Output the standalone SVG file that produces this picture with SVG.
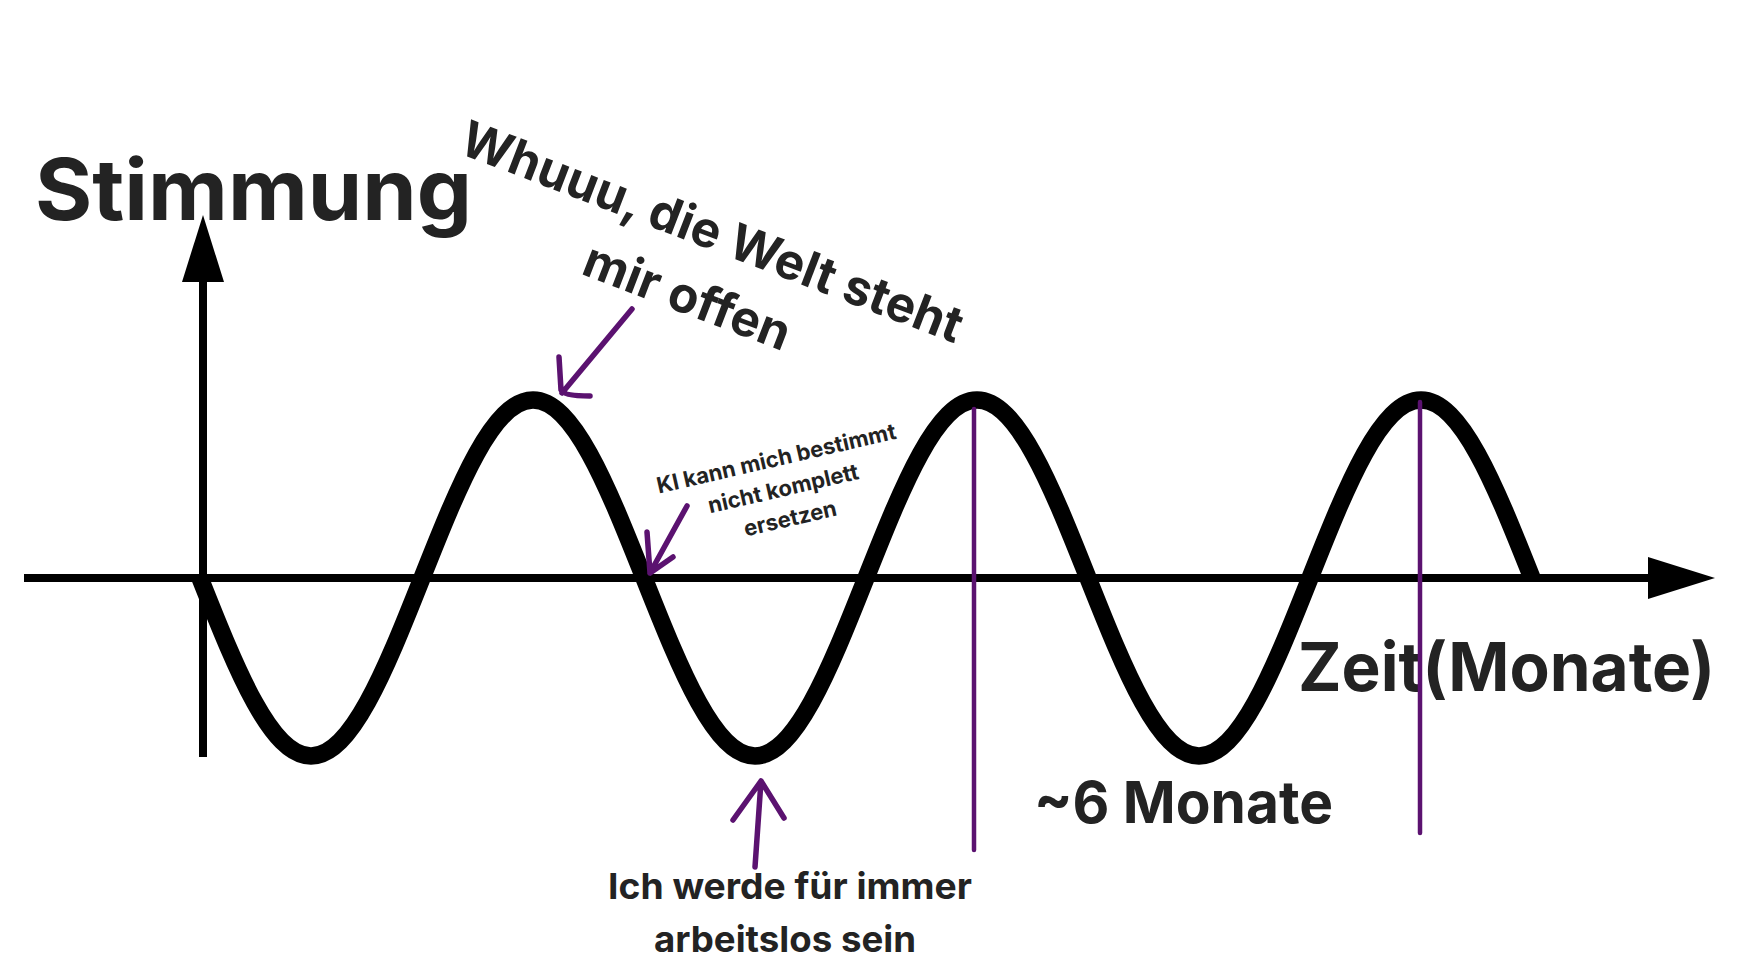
<svg xmlns="http://www.w3.org/2000/svg" width="1742" height="980" viewBox="0 0 1742 980">
<style>
.t{font-family:Inter,"Open Sans","Liberation Sans",sans-serif;font-weight:700;fill:#232323}
.ax{stroke:#000;stroke-width:8;fill:none}
.wave{stroke:#000;stroke-width:17.5;fill:none;stroke-linejoin:round}
.pl{stroke:#5b1270;stroke-width:5.5;fill:none;stroke-linecap:round;stroke-linejoin:round}
.vl{stroke:#5b1270;stroke-width:4.5;fill:none;stroke-linecap:round}
</style>
<rect width="1742" height="980" fill="#fff"/>
<g id="axes">
  <line class="ax" x1="24" y1="578" x2="1652" y2="578"/>
  <polygon points="1648,557 1715,578 1648,599" fill="#000"/>
  <line class="ax" x1="203" y1="278" x2="203" y2="757"/>
  <polygon points="182,282 203,215 224,282" fill="#000"/>
</g>
<g id="wave">
  <path class="wave" d="M200,578 c37.1,93.5 71,178 111,178 s73.9,-84.5 111,-178 s71,-178 111,-178 s73.9,84.5 111,178 s71,178 111,178 s73.9,-84.5 111,-178 s71,-178 111,-178 s73.9,84.5 111,178 s71,178 111,178 s73.9,-84.5 111,-178 s71,-178 111,-178 s73.9,84.5 111,178"/>
</g>
<g id="label-stimmung"><text class="t" x="35" y="220" font-size="85" textLength="437" lengthAdjust="spacingAndGlyphs">Stimmung</text></g>
<g id="label-zeit"><text class="t" x="1298" y="691" font-size="67" textLength="417" lengthAdjust="spacingAndGlyphs">Zeit(Monate)</text></g>
<g id="label-6monate"><text class="t" x="1034" y="823" font-size="58" textLength="299" lengthAdjust="spacingAndGlyphs">~6 Monate</text></g>
<g id="label-whuuu" transform="translate(706,248) rotate(21)">
  <text class="t" x="0" y="0" font-size="49.5" text-anchor="middle">Whuuu, die Welt steht</text>
  <text class="t" x="0" y="69" font-size="49.5" text-anchor="middle">mir offen</text>
</g>
<g id="label-ki" transform="translate(778,466) rotate(-13)">
  <text class="t" x="0" y="0" font-size="22" text-anchor="middle">KI kann mich bestimmt</text>
  <text class="t" x="0" y="30.8" font-size="22" text-anchor="middle">nicht komplett</text>
  <text class="t" x="0" y="61.5" font-size="22" text-anchor="middle">ersetzen</text>
</g>
<g id="label-arbeitslos">
  <text class="t" x="790" y="899" font-size="36" text-anchor="middle" textLength="364" lengthAdjust="spacingAndGlyphs">Ich werde für immer</text>
  <text class="t" x="785" y="952" font-size="36" text-anchor="middle" textLength="262" lengthAdjust="spacingAndGlyphs">arbeitslos sein</text>
</g>
<g id="connectors">
  <path class="pl" d="M632,309 L562,393 M559,357 L561,390 Q563,396 590,396"/>
  <path class="pl" d="M687,506 L650,573 M647,532 L650,573 L673,557"/>
  <path class="pl" d="M755,867 L761,781 M733,820 L761,781 L784,818"/>
  <line class="vl" x1="974" y1="409" x2="974" y2="850"/>
  <line class="vl" x1="1420" y1="402" x2="1420" y2="833"/>
</g>
</svg>
